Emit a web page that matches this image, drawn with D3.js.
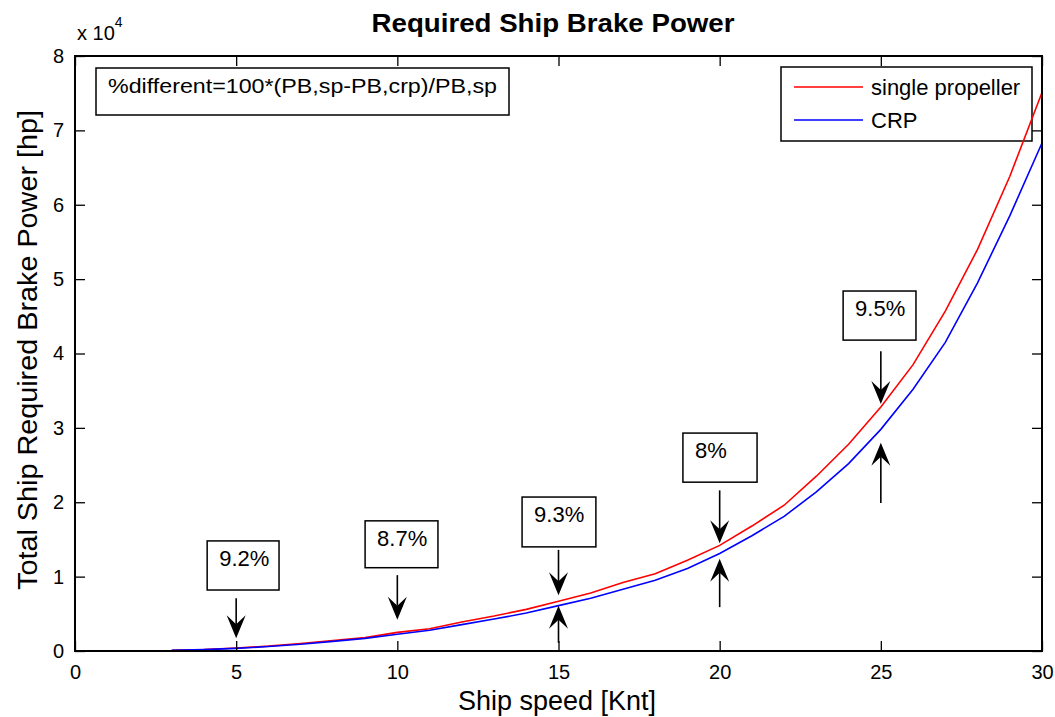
<!DOCTYPE html>
<html><head><meta charset="utf-8">
<script src="https://cdn.jsdelivr.net/npm/d3@7"></script>
<style>
body{margin:0;background:#fff;}
text{font-family:"Liberation Sans",Arial,Helvetica,sans-serif;fill:#000;}
</style></head>
<body>
<svg id="chart" width="1055" height="717"></svg>
<script>
// ---- data ----
const speeds = [3,4,5,6,7,8,9,10,11,12,13,14,15,16,17,18,19,20,21,22,23,24,25,26,27,28,29,30];
const singleProp = [0.010,0.020,0.040,0.065,0.10,0.14,0.18,0.25,0.30,0.39,0.47,0.56,0.67,0.78,0.92,1.04,1.22,1.42,1.68,1.96,2.35,2.78,3.28,3.85,4.57,5.40,6.38,7.51];
const crp        = [0.009,0.018,0.035,0.060,0.09,0.13,0.17,0.225,0.28,0.355,0.43,0.51,0.61,0.71,0.83,0.95,1.11,1.31,1.55,1.81,2.14,2.52,2.98,3.52,4.15,4.95,5.85,6.83];
const xTicks = [0,5,10,15,20,25,30];
const yTicks = [0,1,2,3,4,5,6,7,8];
const seriesNames = ["single propeller","CRP"];
const annoSpeeds = [5,10,15,20,25];
const annoLabels = ["9.2%","8.7%","9.3%","8%","9.5%"];
const annoUp = [false,false,true,true,true];
// annotation box positions in data units [x0,x1,yTop,yBottom]
const annoBoxes = [[4.10,6.33,1.48,0.82],[9.0,11.26,1.75,1.12],[13.87,16.16,2.07,1.40],[18.86,21.16,2.93,2.27],[23.83,26.09,4.84,4.18]];
// arrow extents in data units: down arrow [from,to], up arrow [from,to]
const downArrows = [[0.71,0.17],[1.02,0.42],[1.36,0.75],[2.16,1.45],[4.03,3.32]];
const upArrows = [null,null,[0.11,0.61],[0.59,1.24],[1.99,2.80]];
const formulaText = "%different=100*(PB,sp-PB,crp)/PB,sp";

// ---- layout ----
const svg = d3.select("#chart");
const L=75, T=56, R=1042, B=651;
const x = d3.scaleLinear().domain([0,30]).range([L,R]);
const y = d3.scaleLinear().domain([0,8]).range([B,T]);

// legend box (drawn under the curves)
const lg = svg.append("g");
lg.append("rect").attr("x",781).attr("y",67).attr("width",251).attr("height",74).attr("fill","#fff").attr("stroke","#000").attr("stroke-width",1.5);
const lcol = ["#ff0000","#0000ff"];
seriesNames.forEach((n,i)=>{
  const yy = 87 + i*33;
  lg.append("line").attr("x1",794).attr("x2",863).attr("y1",yy).attr("y2",yy).attr("stroke",lcol[i]).attr("stroke-width",1.5);
  lg.append("text").attr("x",871).attr("y",yy+8).style("font-size","22px").text(n);
});

// curves
const line = d3.line().x((d,i)=>x(speeds[i])).y(d=>y(d));
svg.append("path").datum(singleProp).attr("d",line).attr("fill","none").attr("stroke","#ff0000").attr("stroke-width",1.6);
svg.append("path").datum(crp).attr("d",line).attr("fill","none").attr("stroke","#0000ff").attr("stroke-width",1.6);

// axes (inward ticks on all four sides)
const tl = 10;
const axB = svg.append("g").attr("transform",`translate(0,${B})`).call(d3.axisBottom(x).tickValues(xTicks).tickSize(-tl).tickPadding(14).tickFormat(d3.format("d")));
const axT = svg.append("g").attr("transform",`translate(0,${T})`).call(d3.axisTop(x).tickValues(xTicks).tickSize(-tl).tickFormat(""));
const axL = svg.append("g").attr("transform",`translate(${L},0)`).call(d3.axisLeft(y).tickValues(yTicks).tickSize(-tl).tickPadding(11).tickFormat(d3.format("d")));
const axR = svg.append("g").attr("transform",`translate(${R},0)`).call(d3.axisRight(y).tickValues(yTicks).tickSize(-tl).tickFormat(""));
[axB,axT,axL,axR].forEach(g=>{
  g.select(".domain").remove();
  g.selectAll(".tick line").attr("stroke","#000").attr("stroke-width",1.3);
  g.selectAll(".tick text").style("font-size","20px").attr("fill","#000");
});
svg.append("rect").attr("x",L).attr("y",T).attr("width",R-L).attr("height",B-T).attr("fill","none").attr("stroke","#000").attr("stroke-width",2);

// exponent label
const ex = svg.append("text").attr("x",77).attr("y",40).style("font-size","20px");
ex.append("tspan").text("x 10");
ex.append("tspan").attr("dy",-13).style("font-size","14px").text("4");

// title & axis labels
svg.append("text").attr("x",553).attr("y",32).attr("text-anchor","middle").style("font-size","26px").style("font-weight","bold")
  .attr("textLength",363).attr("lengthAdjust","spacingAndGlyphs").text("Required Ship Brake Power");
svg.append("text").attr("x",557).attr("y",710).attr("text-anchor","middle").style("font-size","27px")
  .attr("textLength",198).attr("lengthAdjust","spacingAndGlyphs").text("Ship speed [Knt]");
svg.append("text").attr("transform","translate(37,350) rotate(-90)").attr("text-anchor","middle").style("font-size","27px")
  .attr("textLength",480).attr("lengthAdjust","spacingAndGlyphs").text("Total Ship Required Brake Power [hp]");

// formula box
svg.append("rect").attr("x",96).attr("y",68).attr("width",413).attr("height",47).attr("fill","#fff").attr("stroke","#000").attr("stroke-width",1.5);
svg.append("text").attr("x",108).attr("y",93).style("font-size","21px")
  .attr("textLength",389).attr("lengthAdjust","spacingAndGlyphs").text(formulaText);

// annotations
function arrow(xp, y0, y1){
  const dir = y1>y0 ? 1 : -1;
  const hl = 23, hw = 9.5, notch = 14;
  svg.append("line").attr("x1",xp).attr("x2",xp).attr("y1",y0).attr("y2",y1 - dir*notch).attr("stroke","#000").attr("stroke-width",1.6);
  const p = [[xp,y1],[xp-hw,y1-dir*hl],[xp,y1-dir*notch],[xp+hw,y1-dir*hl]];
  svg.append("path").attr("d","M"+p.map(q=>q.join(",")).join("L")+"Z").attr("fill","#000");
}
annoSpeeds.forEach((s,i)=>{
  const b = annoBoxes[i];
  const bx0=x(b[0]), bx1=x(b[1]), by0=y(b[2]), by1=y(b[3]);
  svg.append("rect").attr("x",bx0).attr("y",by0).attr("width",bx1-bx0).attr("height",by1-by0).attr("fill","#fff").attr("stroke","#000").attr("stroke-width",1.5);
  svg.append("text").attr("x",bx0+12).attr("y",by0+25).style("font-size","22px").text(annoLabels[i]);
  const d = downArrows[i];
  arrow(x(s), y(d[0]), y(d[1]));
  if(annoUp[i]){ const u = upArrows[i]; arrow(x(s), y(u[0]), y(u[1])); }
});
</script>
</body></html>
